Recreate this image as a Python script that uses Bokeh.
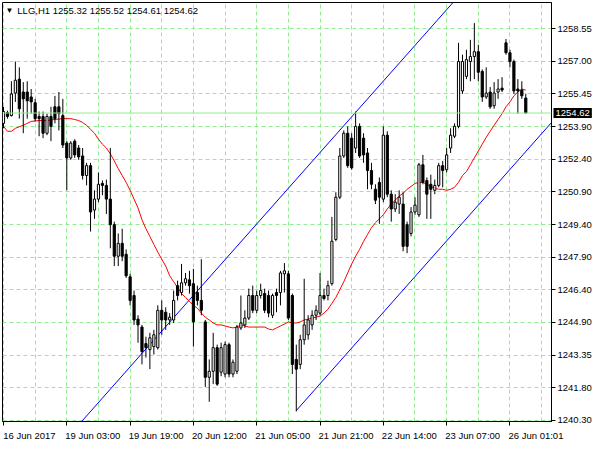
from bokeh.plotting import figure
from bokeh.models import Range1d, FixedTicker, ColumnDataSource, Label, Span
from bokeh.embed import file_html
from bokeh.resources import INLINE

header_text = "LLG,H1  1255.32 1255.52 1254.61 1254.62"
current_price = 1254.62

time_labels = ["16 Jun 2017", "19 Jun 03:00", "19 Jun 19:00", "20 Jun 12:00", "21 Jun 05:00",
               "21 Jun 21:00", "22 Jun 14:00", "23 Jun 07:00", "26 Jun 01:01"]
time_label_bars = [0, 16, 32, 48, 64, 80, 96, 112, 128]
price_tick_labels = ["1240.30", "1241.80", "1243.35", "1244.90", "1246.40", "1247.90", "1249.40",
                     "1250.90", "1252.40", "1253.90", "1255.45", "1257.00", "1258.55"]

opens = [1254.14, 1254.64, 1254.50, 1255.55, 1256.20, 1255.60, 1255.60, 1255.37, 1255.10, 1254.46,
         1254.46, 1253.68, 1254.46, 1254.91, 1254.91, 1254.50, 1253.22, 1252.53, 1253.31, 1252.99,
         1252.62, 1251.71, 1252.17, 1250.10, 1250.61, 1251.34, 1251.25, 1250.61, 1249.42, 1247.95,
         1248.55, 1248.04, 1246.99, 1246.12, 1245.02, 1244.65, 1243.88, 1243.60, 1243.74, 1243.69,
         1245.43, 1245.34, 1244.98, 1244.98, 1246.58, 1246.26, 1246.71, 1246.85, 1246.67, 1246.26,
         1245.89, 1244.89, 1242.31, 1242.59, 1243.69, 1242.55, 1242.46, 1243.83, 1242.46, 1242.59,
         1244.61, 1244.75, 1245.07, 1246.12, 1245.43, 1246.12, 1246.21, 1246.12, 1245.20, 1246.26,
         1246.26, 1247.13, 1247.13, 1246.12, 1243.14, 1242.91, 1244.06, 1244.29, 1244.75, 1245.20,
         1245.30, 1246.12, 1246.12, 1246.67, 1248.73, 1250.70, 1252.62, 1253.68, 1253.45, 1252.99,
         1254.00, 1253.45, 1252.76, 1251.94, 1251.07, 1251.39, 1250.61, 1253.59, 1250.84, 1250.15,
         1250.38, 1250.38, 1249.42, 1249.01, 1250.01, 1249.88, 1252.21, 1251.48, 1251.30, 1251.02,
         1251.25, 1252.17, 1251.98, 1252.99, 1253.54, 1254.00, 1255.65, 1256.33, 1257.02, 1257.25,
         1257.48, 1256.56, 1255.37, 1255.60, 1254.96, 1255.60, 1255.78, 1257.89, 1257.43, 1257.02,
         1255.74, 1255.69, 1255.32]
highs = [1254.91, 1254.73, 1256.10, 1257.02, 1256.75, 1256.06, 1256.10, 1255.74, 1255.28, 1254.69,
         1254.69, 1254.59, 1254.91, 1255.42, 1255.60, 1255.28, 1253.31, 1253.31, 1253.40, 1253.13,
         1252.99, 1252.30, 1252.30, 1251.02, 1251.85, 1251.48, 1251.52, 1252.99, 1249.56, 1249.01,
         1249.23, 1248.27, 1247.13, 1246.35, 1245.20, 1244.75, 1244.20, 1244.38, 1244.52, 1245.66,
         1245.89, 1245.57, 1245.30, 1246.35, 1246.81, 1247.59, 1247.17, 1247.27, 1247.36, 1246.58,
         1247.81, 1244.98, 1243.14, 1244.38, 1243.83, 1243.92, 1243.97, 1243.92, 1243.14, 1244.75,
         1246.12, 1245.43, 1246.44, 1246.58, 1246.35, 1246.67, 1246.44, 1246.35, 1246.21, 1246.44,
         1247.27, 1247.63, 1247.27, 1246.21, 1243.83, 1244.29, 1246.90, 1245.20, 1245.43, 1245.66,
         1247.17, 1246.44, 1246.81, 1249.78, 1250.93, 1252.99, 1253.81, 1254.00, 1253.68, 1254.69,
         1254.14, 1253.68, 1252.99, 1252.30, 1251.30, 1251.62, 1254.00, 1253.77, 1251.02, 1250.84,
         1251.02, 1250.93, 1249.56, 1250.24, 1250.70, 1252.30, 1252.67, 1251.62, 1251.75, 1251.52,
         1252.30, 1252.39, 1252.99, 1253.91, 1254.14, 1257.89, 1257.34, 1257.57, 1258.03, 1258.81,
         1257.80, 1256.65, 1256.75, 1255.83, 1256.06, 1256.20, 1256.29, 1258.07, 1257.57, 1257.11,
         1256.20, 1256.10, 1255.52]
lows = [1253.91, 1254.36, 1254.46, 1255.14, 1254.36, 1253.68, 1254.36, 1254.59, 1254.23, 1253.54,
        1253.45, 1253.59, 1253.31, 1254.14, 1253.81, 1252.99, 1251.02, 1252.44, 1252.53, 1252.44,
        1251.52, 1251.25, 1249.10, 1249.69, 1250.47, 1250.79, 1249.92, 1248.32, 1247.49, 1247.49,
        1247.72, 1246.94, 1245.66, 1244.75, 1243.92, 1242.91, 1243.23, 1242.69, 1243.37, 1243.60,
        1244.29, 1244.52, 1244.75, 1244.84, 1245.89, 1246.12, 1246.58, 1246.21, 1243.74, 1245.66,
        1245.20, 1241.86, 1241.17, 1241.99, 1241.91, 1242.36, 1242.31, 1242.31, 1242.31, 1242.46,
        1244.52, 1244.61, 1244.98, 1245.30, 1245.30, 1245.98, 1245.30, 1245.11, 1245.07, 1245.34,
        1245.66, 1246.26, 1244.98, 1242.46, 1240.72, 1242.69, 1243.83, 1244.06, 1244.52, 1244.98,
        1245.20, 1245.89, 1245.89, 1246.58, 1248.65, 1250.61, 1252.53, 1252.07, 1251.98, 1252.76,
        1252.53, 1252.30, 1251.07, 1251.07, 1250.38, 1249.46, 1250.47, 1250.70, 1249.56, 1250.01,
        1249.92, 1248.18, 1248.09, 1248.87, 1249.88, 1249.78, 1251.30, 1249.69, 1249.69, 1250.84,
        1251.16, 1251.16, 1251.85, 1252.76, 1253.45, 1253.91, 1255.51, 1256.20, 1256.10, 1256.20,
        1256.10, 1255.14, 1255.28, 1254.82, 1254.82, 1255.28, 1255.60, 1257.34, 1256.75, 1255.51,
        1254.59, 1255.28, 1254.61]
closes = [1254.69, 1254.46, 1255.51, 1256.15, 1254.82, 1255.28, 1255.19, 1255.14, 1254.36, 1254.36,
          1253.68, 1254.46, 1254.00, 1254.36, 1254.59, 1253.13, 1252.53, 1253.22, 1252.67, 1252.58,
          1251.71, 1252.17, 1250.01, 1250.61, 1251.30, 1251.25, 1250.61, 1249.42, 1247.95, 1248.55,
          1247.95, 1247.04, 1245.89, 1244.98, 1244.75, 1243.51, 1243.69, 1244.15, 1244.29, 1245.43,
          1244.98, 1244.98, 1245.11, 1245.89, 1246.12, 1246.71, 1246.90, 1246.58, 1244.89, 1245.89,
          1245.43, 1242.31, 1242.59, 1243.69, 1241.99, 1243.69, 1243.83, 1242.46, 1243.01, 1244.65,
          1244.84, 1245.07, 1246.12, 1245.43, 1246.12, 1246.35, 1245.43, 1245.30, 1246.12, 1246.12,
          1247.17, 1247.27, 1245.07, 1242.91, 1242.69, 1244.06, 1244.75, 1244.98, 1245.20, 1245.43,
          1246.12, 1245.98, 1246.58, 1248.65, 1250.70, 1252.62, 1253.68, 1252.17, 1252.07, 1254.00,
          1252.62, 1252.67, 1251.94, 1251.30, 1250.56, 1250.70, 1253.59, 1250.84, 1250.15, 1250.47,
          1250.70, 1248.41, 1248.41, 1250.01, 1250.33, 1252.21, 1251.39, 1250.84, 1251.07, 1251.25,
          1252.17, 1251.94, 1252.67, 1253.59, 1254.00, 1257.02, 1257.02, 1257.11, 1257.25, 1257.48,
          1256.52, 1255.37, 1255.55, 1254.91, 1255.55, 1255.74, 1255.69, 1257.43, 1257.02, 1255.65,
          1255.65, 1255.42, 1254.62]

moving_average = [1254.00, 1253.77, 1253.77, 1253.91, 1253.98, 1254.05, 1254.14, 1254.23, 1254.25, 1254.27,
                  1254.27, 1254.27, 1254.30, 1254.32, 1254.34, 1254.36, 1254.36, 1254.36, 1254.32, 1254.27,
                  1254.18, 1254.05, 1253.86, 1253.68, 1253.40, 1253.17, 1252.99, 1252.72, 1252.39, 1252.03,
                  1251.71, 1251.39, 1251.02, 1250.61, 1250.20, 1249.65, 1249.23, 1248.87, 1248.50, 1248.14,
                  1247.81, 1247.49, 1247.04, 1246.76, 1246.49, 1246.21, 1246.03, 1245.85, 1245.66, 1245.53,
                  1245.30, 1245.11, 1244.98, 1244.84, 1244.75, 1244.75, 1244.70, 1244.65, 1244.61, 1244.65,
                  1244.75, 1244.70, 1244.65, 1244.65, 1244.65, 1244.65, 1244.65, 1244.56, 1244.52, 1244.61,
                  1244.70, 1244.79, 1244.89, 1244.84, 1244.84, 1244.89, 1244.98, 1245.02, 1245.07, 1245.11,
                  1245.16, 1245.30, 1245.48, 1245.75, 1246.03, 1246.39, 1246.76, 1247.17, 1247.59, 1247.95,
                  1248.27, 1248.64, 1248.96, 1249.28, 1249.51, 1249.69, 1249.88, 1250.15, 1250.38, 1250.56,
                  1250.75, 1250.88, 1251.07, 1251.20, 1251.34, 1251.39, 1251.39, 1251.30, 1251.20, 1251.11,
                  1251.07, 1251.07, 1251.02, 1251.07, 1251.16, 1251.39, 1251.71, 1251.89, 1252.21, 1252.53,
                  1252.85, 1253.17, 1253.49, 1253.77, 1254.05, 1254.32, 1254.59, 1254.91, 1255.14, 1255.42,
                  1255.60, 1255.74, 1255.69]

channel_upper_bars = [19.75, 115.0]
channel_upper_prices = [1240.25, 1260.06]
channel_lower_bars = [74.0, 140.0]
channel_lower_prices = [1240.76, 1254.49]

# ---------------------------------------------------------------------------
FONT = "Liberation Sans"
GRID = "#90EE90"
FRAME_W, FRAME_H = 549, 419
X0, X1 = -0.25, 138.5

bars = list(range(len(opens)))
body_top = [max(o, c) for o, c in zip(opens, closes)]
body_bot = [min(o, c) for o, c in zip(opens, closes)]
body_fill = ["white" if c >= o else "black" for o, c in zip(opens, closes)]
src = ColumnDataSource(dict(x=bars, high=highs, low=lows, top=body_top, bottom=body_bot, fill=body_fill))

n_ticks = len(price_tick_labels)
lo_t, hi_t = float(price_tick_labels[0]), float(price_tick_labels[-1])
y_ticks = [round(lo_t + (hi_t - lo_t) * i / (n_ticks - 1), 4) for i in range(n_ticks)]

# time labels are left-aligned at their tick (MetaTrader style): shift label anchors by half a label width
px_per_bar = FRAME_W / (X1 - X0)
half_label = 26.0 / px_per_bar
label_anchor = [round(b + half_label, 3) for b in time_label_bars]

p = figure(frame_width=FRAME_W, frame_height=FRAME_H, output_backend="svg", toolbar_location=None,
           x_range=Range1d(X0, X1), y_range=Range1d(1240.25, 1259.77),
           y_axis_location="right", min_border_left=2, min_border_top=2, min_border_right=0,
           min_border_bottom=0)
p.background_fill_color = "white"
p.border_fill_color = "white"
p.outline_line_color = "black"
p.outline_line_alpha = 1.0
p.outline_line_width = 1

# grids
p.ygrid.ticker = FixedTicker(ticks=y_ticks)
p.ygrid.grid_line_color = GRID
p.ygrid.grid_line_dash = "4 3"
p.xgrid.ticker = FixedTicker(ticks=list(range(0, 137, 8)))
p.xgrid.grid_line_color = GRID
p.xgrid.grid_line_dash = "4 3"

# axes
for ax in (p.xaxis[0], p.yaxis[0]):
    ax.axis_line_color = "black"
    ax.major_tick_line_color = "black"
    ax.major_tick_in = 0
    ax.major_tick_out = 4
    ax.minor_tick_line_color = None
    ax.major_label_text_font = FONT
    ax.major_label_text_font_size = "9.5px"
    ax.major_label_text_color = "black"
    ax.major_label_standoff = 2

p.xaxis.ticker = FixedTicker(ticks=label_anchor, minor_ticks=time_label_bars)
p.xaxis.major_label_overrides = {a: t for a, t in zip(label_anchor, time_labels)}
p.xaxis.major_tick_line_color = None
p.xaxis.minor_tick_line_color = "black"
p.xaxis.minor_tick_in = 0
p.xaxis.minor_tick_out = 4
p.xaxis.major_label_standoff = 4
p.yaxis.ticker = FixedTicker(ticks=y_ticks)
p.yaxis.major_label_overrides = {v: t for v, t in zip(y_ticks, price_tick_labels)}

# current price line
p.add_layout(Span(location=current_price, dimension="width", line_color=GRID, line_width=1))

# channel lines
p.line(channel_upper_bars, channel_upper_prices, line_color="blue", line_width=1)
p.line(channel_lower_bars, channel_lower_prices, line_color="blue", line_width=1)

# moving average
p.line(bars, moving_average, line_color="red", line_width=1)

# candles
p.segment(x0="x", y0="low", x1="x", y1="high", source=src, line_color="black", line_width=1)
p.vbar(x="x", width=0.55, top="top", bottom="bottom", source=src, fill_color="fill",
       line_color="black", line_width=1)

# header
p.add_layout(Label(x=1.5, y=1259.38, text="\u25BC", text_font=FONT, text_font_size="8px",
                   text_color="black", text_align="center", text_baseline="middle"))
p.add_layout(Label(x=3.5, y=1259.38, text=header_text, text_font=FONT, text_font_size="9.5px",
                   text_color="black", text_align="left", text_baseline="middle"))

# current price tag on the price scale (placed in the right side panel so it is not clipped)
p.add_layout(Label(x=X1, y=current_price, x_offset=2, text=f"{current_price:.2f}",
                   text_font=FONT, text_font_size="9.5px", text_color="white", text_align="left",
                   text_baseline="middle", background_fill_color="black", padding=2), "right")

open("out.html", "w").write(file_html(p, INLINE))
